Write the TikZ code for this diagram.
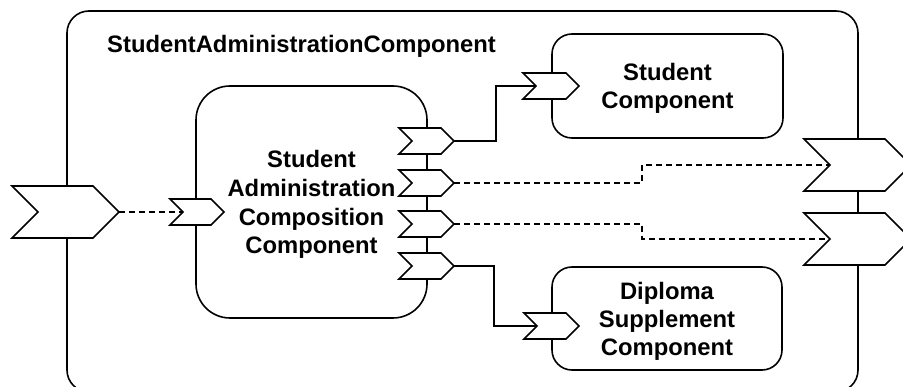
\documentclass[tikz,border=0pt]{standalone}
\usepackage{fontspec}
\setmainfont{Liberation Sans}
\begin{document}
\begin{tikzpicture}[x=1pt,y=-1pt,
  lw/.style={line width=1.6pt},
  box/.style={lw, draw=black, fill=white, rectangle, inner sep=0pt, outer sep=0pt, align=center,
    text depth=0pt, font=\fontsize{23.8}{28}\selectfont\bfseries},
  portbox/.style={rectangle, draw=none, inner sep=0pt, outer sep=0pt},
  portline/.style={lw, draw=black, fill=white, line join=miter},
  conn/.style={lw, draw=black},
  dconn/.style={lw, draw=black, dash pattern=on 6pt off 4pt}]
\newcommand\mkport[5]{%
  \node[portbox, minimum width=#4pt, minimum height=#5pt] (#1) at (#2,#3) {};
  \draw[portline] (#1.north west) -- ([xshift=-#5pt/2]#1.north east) -- (#1.east)
    -- ([xshift=-#5pt/2]#1.south east) -- (#1.south west) -- ([xshift=#5pt/2]#1.west) -- cycle;
  \coordinate (#1-in) at ([xshift=#5pt/2]#1.west);
}
\useasboundingbox (0,0) rectangle (903,387);
\clip (0,0) rectangle (903,387);
% boxes
\node[box, rounded corners=22pt, minimum width=791pt, minimum height=381pt] (outer) at (462.5,201.5) {};
\node[anchor=base west, inner sep=0pt, font=\fontsize{23.8}{28}\selectfont\bfseries] (title) at (107,53) {StudentAdministrationComponent};
\node[box, rounded corners=34pt, minimum width=231pt, minimum height=232pt,
  font=\fontsize{23.8}{28.8}\selectfont\bfseries] (comp) at (311.5,202)
  {Student\\Administration\\Composition\\Component};
\node[box, rounded corners=20pt, minimum width=231pt, minimum height=104pt] (student) at (667.5,86)
  {Student\\Component};
\node[box, rounded corners=20pt, minimum width=230pt, minimum height=103pt] (diploma) at (667,318.5)
  {Diploma\\Supplement\\Component};
% ports
\mkport{pin}{65.5}{212}{107}{52}
\mkport{cin}{197}{212}{54}{26}
\mkport{cA}{426.5}{141}{55}{26}
\mkport{cB}{426.5}{183}{55}{26}
\mkport{cC}{426.5}{224}{55}{26}
\mkport{cD}{426.5}{266}{55}{26}
\mkport{sin}{551}{86}{56}{26}
\mkport{din}{551.5}{326}{55}{26}
\mkport{poutA}{857.5}{165}{107}{52}
\mkport{poutB}{857.5}{239}{107}{52}
% connectors
\draw[dconn] (pin.east) -- (cin-in);
\draw[conn] (cA.east) -- ++(42pt,0) |- (sin-in);
\draw[conn] (cD.east) -- ++(40pt,0) |- (din-in);
\draw[dconn] (cB.east) -- ++(188pt,0) |- (poutA-in);
\draw[dconn] (cC.east) -- ++(188pt,0) |- (poutB-in);
\end{tikzpicture}
\end{document}
